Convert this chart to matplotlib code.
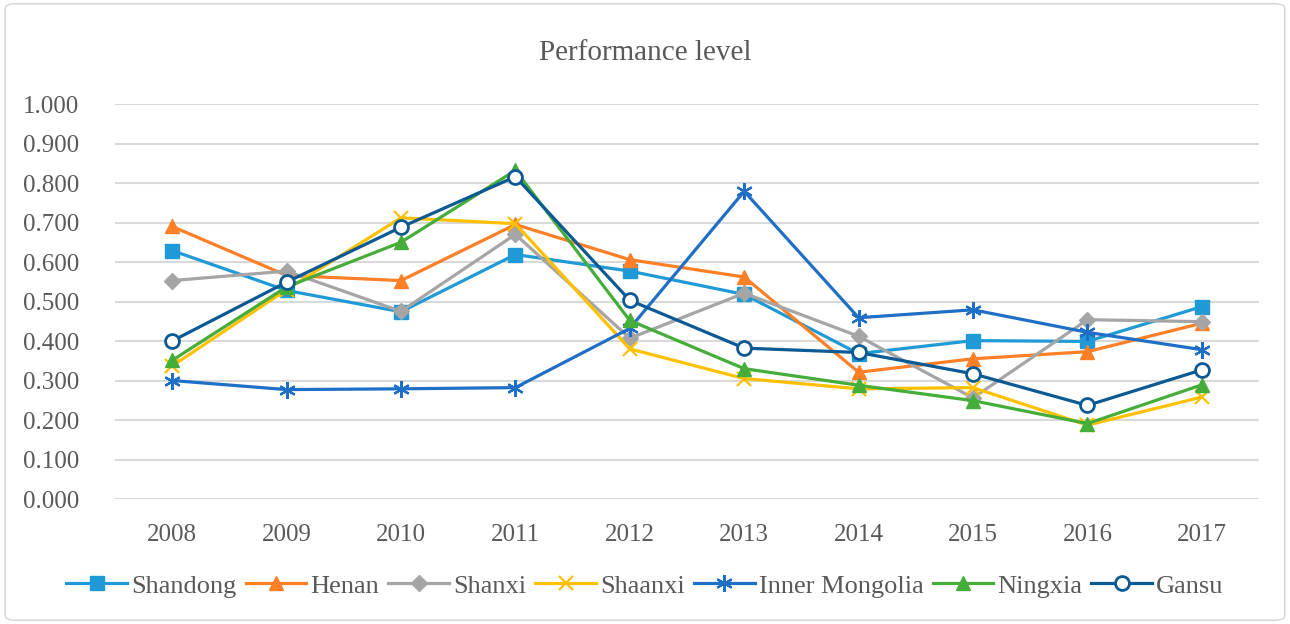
import matplotlib.pyplot as plt
from matplotlib.patches import FancyBboxPatch

years = ['2008', '2009', '2010', '2011', '2012', '2013', '2014', '2015', '2016', '2017']

shandong = [0.629, 0.528, 0.474, 0.619, 0.577, 0.518, 0.368, 0.401, 0.399, 0.487]
henan = [0.690, 0.566, 0.553, 0.695, 0.606, 0.562, 0.321, 0.355, 0.373, 0.445]
shanxi = [0.553, 0.577, 0.475, 0.670, 0.407, 0.521, 0.412, 0.256, 0.454, 0.449]
shaanxi = [0.337, 0.530, 0.712, 0.697, 0.380, 0.305, 0.279, 0.282, 0.187, 0.258]
inner_mongolia = [0.300, 0.277, 0.279, 0.282, 0.432, 0.779, 0.459, 0.479, 0.422, 0.378]
ningxia = [0.351, 0.537, 0.650, 0.832, 0.452, 0.330, 0.288, 0.249, 0.191, 0.289]
gansu = [0.400, 0.549, 0.688, 0.816, 0.503, 0.382, 0.371, 0.317, 0.237, 0.327]

nombres = ['Shandong', 'Henan', 'Shanxi', 'Shaanxi', 'Inner Mongolia', 'Ningxia', 'Gansu']
series = [shandong, henan, shanxi, shaanxi, inner_mongolia, ningxia, gansu]
colores = ['#1F9AD6', '#FF7F27', '#A5A5A5', '#FFC000', '#1F6FC6', '#45AD3A', '#0C5A94']
marcas = ['s', '^', 'D', 'x', '*', '^', 'o']

plt.rcParams['font.family'] = ['Liberation Serif', 'DejaVu Serif']
gris = '#595959'

fig = plt.figure(figsize=(12.9, 6.24), dpi=100)
borde = FancyBboxPatch((0.004, 0.006), 0.992, 0.988, boxstyle='round,pad=0,rounding_size=0.008',
                       transform=fig.transFigure, facecolor='none', edgecolor='#D9D9D9', lw=1.2)
fig.patches.append(borde)

ax = fig.add_axes([0.0891, 0.2003, 0.8869, 0.633])
x = list(range(len(years)))
for nombre, valores, color, m in zip(nombres, series, colores, marcas):
    if m == 'o':
        ax.plot(x, valores, color=color, lw=2.3, marker='o', markersize=10,
                markerfacecolor='white', markeredgewidth=2, label=nombre, zorder=3)
    elif m == 'x':
        ax.plot(x, valores, color=color, lw=2.3, marker='x', markersize=10,
                markeredgewidth=1.6, label=nombre, zorder=3)
    elif m == '*':
        # asterisco de 6 brazos con uno vertical
        ax.plot(x, valores, color=color, lw=2.3, marker=(6, 2, 0), markersize=12,
                markeredgewidth=1.6, label=nombre, zorder=3)
    elif m == 'D':
        ax.plot(x, valores, color=color, lw=2.3, marker='D', markersize=8, label=nombre, zorder=3)
    else:
        ax.plot(x, valores, color=color, lw=2.3, marker=m, markersize=10, label=nombre, zorder=3)

ax.set_xlim(-0.5, len(years) - 0.5)
ax.set_ylim(0, 1.0)
ax.set_yticks([i / 10 for i in range(11)])
ax.set_yticklabels([f'{i / 10:.3f}' for i in range(11)])
ax.set_xticks(x)
ax.set_xticklabels(years)
ax.tick_params(axis='both', length=0, labelsize=18, labelcolor=gris)
ax.tick_params(axis='x', pad=18)
ax.tick_params(axis='y', pad=26)
for s in ax.spines.values():
    s.set_visible(False)
ax.grid(axis='y', color='#D9D9D9', lw=1.5)
ax.set_axisbelow(True)

fig.text(0.5, 0.915, 'Performance level', ha='center', va='center', fontsize=21, color=gris)
fig.legend(loc='center', bbox_to_anchor=(0.5, 0.061), ncol=7, frameon=False,
           fontsize=19, labelcolor=gris, handlelength=2.3, handletextpad=0.15,
           columnspacing=0.35)

fig.savefig('out.png', dpi=100)
